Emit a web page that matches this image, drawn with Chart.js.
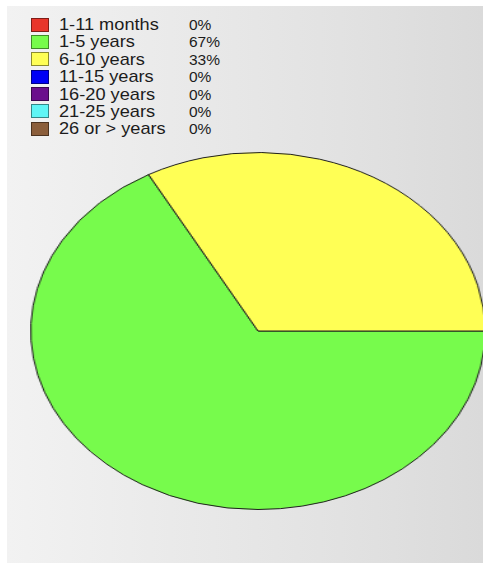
<!DOCTYPE html>
<html>
<head>
<meta charset="utf-8">
<script src="https://cdn.jsdelivr.net/npm/chart.js@4"></script>
<style>
    html, body {
        margin: 0;
        padding: 0;
        width: 483px;
        height: 565px;
        overflow: hidden;
        background: #ffffff;
    }
    .panel {
        position: absolute;
        left: 7px;
        top: 6px;
        width: 476px;
        height: 557px;
        background: linear-gradient(to right, #f2f2f2 0%, #ebebeb 30%, #e2e2e2 70%, #dadada 100%);
        overflow: hidden;
    }
    .legend {
        position: absolute;
        left: 24px;
        top: 10px;
        font-family: "Liberation Sans", Arial, sans-serif;
        font-size: 17px;
        color: #1c1c1c;
    }
    .legend-row {
        position: relative;
        height: 17.4px;
        line-height: 17.4px;
        white-space: nowrap;
    }
    .legend-box {
        position: absolute;
        left: 0;
        top: 1.5px;
        width: 16px;
        height: 12px;
        border: 1px solid rgba(0, 0, 0, 0.45);
    }
    .legend-label {
        position: absolute;
        left: 28px;
        top: 0;
        transform: scaleX(1.07);
        transform-origin: left center;
    }
    .legend-pct {
        position: absolute;
        left: 158px;
        top: 0;
        font-size: 15.5px;
    }
    .pie-wrap {
        position: absolute;
        left: 72px;
        top: 146px;
        width: 358px;
        height: 358px;
        transform: scaleX(1.273);
        transform-origin: center center;
    }
</style>
</head>
<body>
<div class="panel">
    <div class="legend" id="legend"></div>
    <div class="pie-wrap">
        <canvas id="pie-chart" width="358" height="358"></canvas>
    </div>
</div>
<script>
/* ============================================= */
/*                  Chart Data                   */
/* ============================================= */

const categories = ["1-11 months", "1-5 years", "6-10 years", "11-15 years", "16-20 years", "21-25 years", "26 or > years"];
const shares = [0, 67, 33, 0, 0, 0, 0];
const shareLabels = ["0%", "67%", "33%", "0%", "0%", "0%", "0%"];
const sliceColors = ['#e8362b', '#77fb4c', '#ffff55', '#0000f5', '#6b0f8c', '#5ff5f5', '#8b5e3b'];

/* ============================================= */
/*                    Legend                     */
/* ============================================= */

const legend = document.getElementById('legend');
categories.forEach((cat, i) => {
    legend.innerHTML +=
    `<div class="legend-row">
        <span class="legend-box" style="background:${sliceColors[i]}"></span>
        <span class="legend-label">${cat.replace('>', '&gt;')}</span>
        <span class="legend-pct">${shareLabels[i]}</span>
    </div>`;
});

/* ============================================= */
/*                  Pie Graph                    */
/* ============================================= */

const pieCanvas = document.getElementById('pie-chart');

const pieData = {
    labels: categories,
    datasets: [{
        data: shares,
        backgroundColor: sliceColors,
        borderColor: '#1e1e1e',
        borderWidth: 1
    }]
};

const pieOptions = {
    responsive: false,
    maintainAspectRatio: false,
    rotation: 90,
    animation: false,
    events: [],
    layout: {
        padding: 0
    },
    plugins: {
        legend: {
            display: false
        },
        tooltip: {
            enabled: false
        }
    }
};

let pieChart = new Chart(pieCanvas, {
    type: 'pie',
    data: pieData,
    options: pieOptions
});
</script>
</body>
</html>
